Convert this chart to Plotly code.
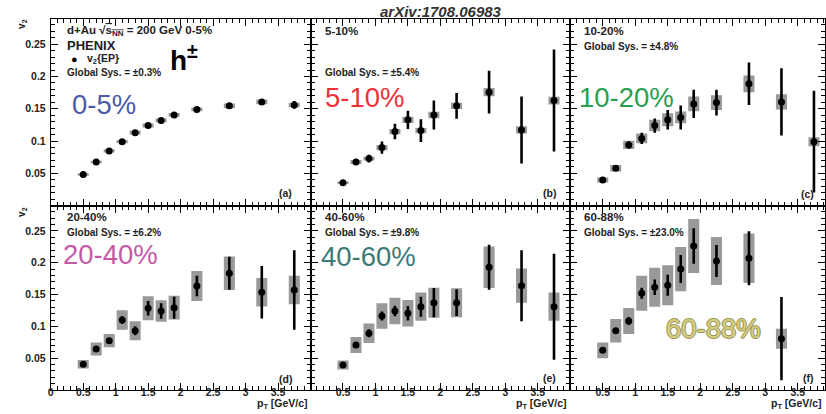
import plotly.graph_objects as go

W, H = 826, 414

# ---------------- data ----------------
pt = [0.5, 0.7, 0.9, 1.1, 1.3, 1.5, 1.7, 1.9, 2.25, 2.75, 3.25, 3.75]

v2_0_5 = [0.048, 0.0675, 0.0846, 0.099, 0.113, 0.124, 0.132, 0.1405, 0.149, 0.1545, 0.1607, 0.156]
stat_0_5 = [0.001, 0.001, 0.001, 0.001, 0.001, 0.0015, 0.0015, 0.002, 0.002, 0.002, 0.003, 0.006]
sys_0_5 = [0.002, 0.002, 0.0025, 0.0025, 0.003, 0.003, 0.003, 0.003, 0.003, 0.0035, 0.0035, 0.0035]

v2_5_10 = [0.0354, 0.0675, 0.0727, 0.0898, 0.1146, 0.1328, 0.1162, 0.1405, 0.1545, 0.1758, 0.1172, 0.1628]
stat_5_10 = [0.002, 0.004, 0.006, 0.0096, 0.012, 0.014, 0.0176, 0.0225, 0.020, 0.033, 0.052, 0.079]
sys_5_10 = [0.002, 0.003, 0.003, 0.004, 0.004, 0.005, 0.004, 0.005, 0.005, 0.0065, 0.0057, 0.006]

v2_10_20 = [0.0396, 0.0577, 0.094, 0.104, 0.124, 0.133, 0.1366, 0.1576, 0.1596, 0.1887, 0.1607, 0.099]
stat_10_20 = [0.002, 0.003, 0.0057, 0.0088, 0.011, 0.015, 0.0186, 0.022, 0.020, 0.033, 0.052, 0.079]
sys_10_20 = [0.004, 0.005, 0.0065, 0.0075, 0.009, 0.010, 0.009, 0.0116, 0.0114, 0.013, 0.012, 0.007]

v2_20_40 = [0.0404, 0.0645, 0.0775, 0.110, 0.0932, 0.1285, 0.1242, 0.1294, 0.1635, 0.1835, 0.1536, 0.1572]
stat_20_40 = [0.002, 0.003, 0.004, 0.0058, 0.0071, 0.0113, 0.0123, 0.0173, 0.0162, 0.026, 0.0414, 0.0624]
sys_20_40 = [0.0066, 0.0102, 0.0105, 0.0153, 0.0149, 0.0189, 0.017, 0.0186, 0.0236, 0.0263, 0.0223, 0.0223]

v2_40_60 = [0.0393, 0.0708, 0.0892, 0.1164, 0.1242, 0.1206, 0.131, 0.1373, 0.1373, 0.1929, 0.164, 0.131]
stat_40_60 = [0.002, 0.003, 0.0063, 0.0071, 0.0084, 0.0115, 0.0157, 0.0231, 0.021, 0.0354, 0.0558, 0.0833]
sys_40_60 = [0.0071, 0.0126, 0.0152, 0.0201, 0.0207, 0.0209, 0.0223, 0.0236, 0.0228, 0.0327, 0.027, 0.0223]

v2_60_88 = [0.0624, 0.0932, 0.1085, 0.152, 0.1615, 0.1646, 0.190, 0.2264, 0.2028, 0.2071, 0.0807]
stat_60_88 = [0.003, 0.0044, 0.0063, 0.0086, 0.0123, 0.0165, 0.022, 0.028, 0.0252, 0.0425, 0.0655]
sys_60_88 = [0.0123, 0.0184, 0.0204, 0.0275, 0.0307, 0.0314, 0.0346, 0.0425, 0.0377, 0.0388, 0.0157]

centralities = ["0-5%", "5-10%", "10-20%", "20-40%", "40-60%", "60-88%"]
global_sys = ["±0.3%", "±5.4%", "±4.8%", "±6.2%", "±9.8%", "±23.0%"]
panel_tags = ["(a)", "(b)", "(c)", "(d)", "(e)", "(f)"]
cent_colors = ["#4b5ba6", "#ed3237", "#27a150", "#c35aa6", "#3d7a76", "#d4cf80"]

values = [v2_0_5, v2_5_10, v2_10_20, v2_20_40, v2_40_60, v2_60_88]
stats = [stat_0_5, stat_5_10, stat_10_20, stat_20_40, stat_40_60, stat_60_88]
syss = [sys_0_5, sys_5_10, sys_10_20, sys_20_40, sys_40_60, sys_60_88]

y_ticks = [0.05, 0.1, 0.15, 0.2, 0.25]

# ---------------- layout helpers ----------------
def px(x):
    return x / W

def py(y):
    return 1 - y / H

col_px = [(48, 309), (309, 570), (570, 826)]
col_range = [[0, 4.0], [0, 4.0], [0, 3.92]]
row_px = [(18.5, 205.5), (205.5, 390)]

FONT = "Liberation Sans, Arial, sans-serif"
GRAY = "#999999"

fig = go.Figure()

layout = dict(
    width=W, height=H,
    margin=dict(l=0, r=0, t=0, b=0),
    paper_bgcolor="white", plot_bgcolor="white",
    showlegend=False, barmode="overlay",
    font=dict(family=FONT, color="#222222"),
)

for i in range(6):
    n = i + 1
    r, c = divmod(i, 3)
    xs = pt[:len(values[i])]
    sfx = "" if n == 1 else str(n)
    xa, ya = "x" + sfx, "y" + sfx

    fig.add_trace(go.Bar(
        x=xs, y=[2 * s for s in syss[i]],
        base=[v - s for v, s in zip(values[i], syss[i])],
        width=0.17, marker=dict(color=GRAY, line=dict(width=0)),
        xaxis=xa, yaxis=ya, hoverinfo="skip"))
    fig.add_trace(go.Scatter(
        x=xs, y=values[i], mode="markers",
        marker=dict(color="black", size=7),
        error_y=dict(type="data", array=stats[i], color="black",
                     thickness=2.6, width=0),
        xaxis=xa, yaxis=ya))

    x0, x1 = col_px[c]
    y0, y1 = row_px[r]
    xkw = dict(
        domain=[px(x0), px(x1)], range=col_range[c], anchor=ya,
        showline=True, linecolor="black", linewidth=1, mirror="allticks",
        ticks="inside", ticklen=7, tickwidth=1, tickcolor="black",
        tick0=0, dtick=0.5,
        minor=dict(ticks="inside", ticklen=4, dtick=0.1, tick0=0,
                   tickcolor="black", tickwidth=1),
        showgrid=False, zeroline=False, fixedrange=True,
        tickfont=dict(size=10.5, family=FONT, color="#222222", weight="bold"),
    )
    if r == 0:
        xkw["showticklabels"] = False
    else:
        tv = [0, 0.5, 1, 1.5, 2, 2.5, 3, 3.5] if c == 0 else [0.5, 1, 1.5, 2, 2.5, 3, 3.5]
        xkw["tickmode"] = "array"
        xkw["tickvals"] = tv
        xkw["ticktext"] = [f"{t:g}" for t in tv]
        xkw["ticklabelstandoff"] = -8
    ykw = dict(
        domain=[py(y1), py(y0)], range=[0, 0.29], anchor=xa,
        showline=True, linecolor="black", linewidth=1, mirror="allticks",
        ticks="inside", ticklen=7, tickwidth=1, tickcolor="black",
        tickmode="array", tickvals=y_ticks, ticktext=[f"{t:g}" for t in y_ticks],
        minor=dict(ticks="inside", ticklen=4, dtick=0.01, tick0=0,
                   tickcolor="black", tickwidth=1),
        showgrid=False, zeroline=False, fixedrange=True,
        tickfont=dict(size=10.5, family=FONT, color="#222222", weight="bold"),
        ticklabelstandoff=2,
    )
    if c != 0:
        ykw["showticklabels"] = False
    layout["xaxis" + sfx] = xkw
    layout["yaxis" + sfx] = ykw

fig.update_layout(**layout)

ann = []

def add_text(text, x, y, size, color="#222222", bold=True, xanchor="left",
             yanchor="middle", angle=0, italic=False, shadow=None):
    f = dict(size=size, color=color, family=FONT)
    if bold:
        f["weight"] = "bold"
    if italic:
        f["style"] = "italic"
    if shadow:
        f["shadow"] = shadow
    ann.append(dict(text=text, x=px(x), y=py(y), xref="paper", yref="paper",
                    xanchor=xanchor, yanchor=yanchor, showarrow=False,
                    textangle=angle, font=f))

# title
add_text("arXiv:1708.06983", 440, 11, 15, color="#333333", xanchor="center", italic=True)

# axis titles
add_text("v<sub>2</sub>", 19, 24, 10, angle=-90, xanchor="center")
add_text("v<sub>2</sub>", 19, 212, 10, angle=-90, xanchor="center")
for xr in (309, 570, 826):
    add_text("p<sub>T</sub> [GeV/c]", xr - 1, 404, 10.5, xanchor="right")

# panel (a) header
add_text("d+Au √<span style='text-decoration:overline'>s<sub>NN</sub></span> = 200 GeV 0-5%",
         62, 31, 11.5)
add_text("PHENIX", 62, 45, 13)
add_text("●", 66, 59, 11, color="black")
add_text("v<sub>2</sub>{EP}", 82, 59, 10.5)
add_text("h<sup>±</sup>", 166, 58, 28, color="black")

small_pos = [(62, 31), (322, 31), (582, 31), (62, 217), (322, 217), (582, 217)]
gs_pos = [(62, 72), (322, 72), (582, 46), (62, 233), (322, 233), (582, 233)]
big_pos = [(101, 104), (364, 98), (627, 97), (108, 255), (367, 256), (714, 328)]
tag_pos = [(292, 193), (558, 193), (817, 194), (292, 379), (558, 378), (817, 378)]

for i in range(6):
    if i > 0:
        add_text(centralities[i], *small_pos[i], 11.5)
    add_text("Global Sys. = " + global_sys[i], *gs_pos[i], 10)
    shadow = None
    if i == 5:
        shadow = "-1px 0 #9a9458, 1px 0 #9a9458, 0 -1px #9a9458, 0 1px #9a9458"
    add_text(centralities[i], *big_pos[i], 27.5, color=cent_colors[i], bold=False,
             xanchor="center", shadow=shadow)
    add_text(panel_tags[i], *tag_pos[i], 10.5, xanchor="right")

fig.update_layout(annotations=ann)
fig.write_html("out.html", config={"displayModeBar": False},
               post_script="document.body.style.margin='0';")
